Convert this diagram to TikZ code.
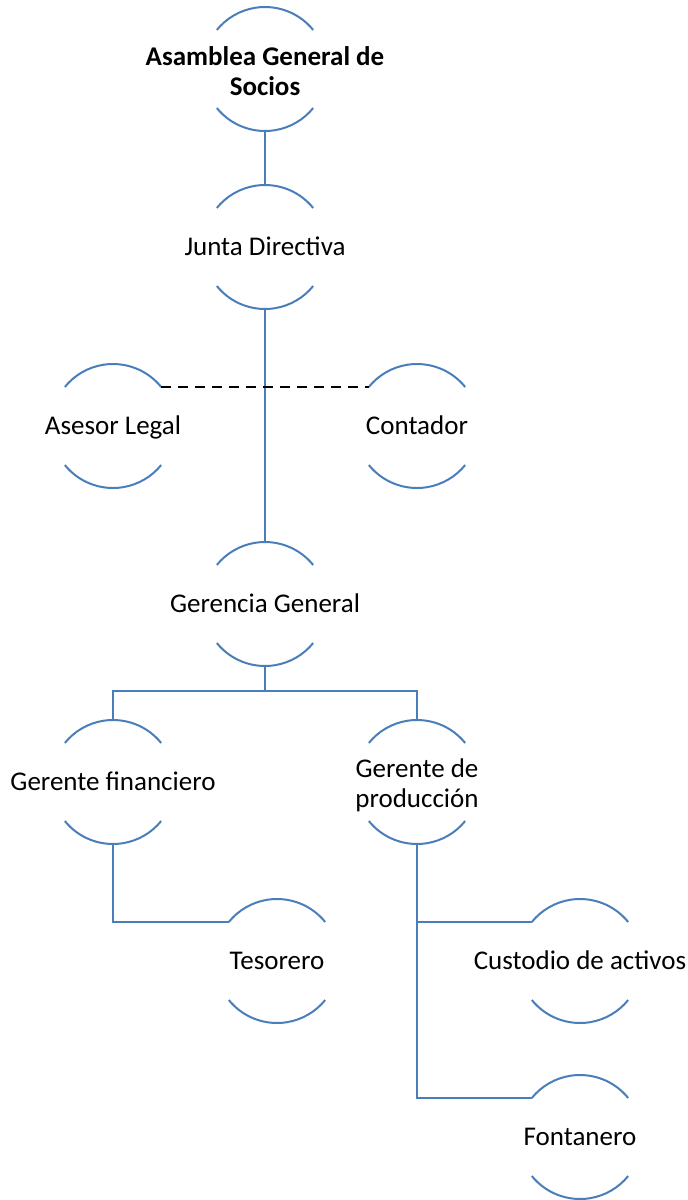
\documentclass[tikz,border=0pt]{standalone}
\usepackage{fontspec}
\setmainfont{Carlito}
\usepackage{xcolor}
\usetikzlibrary{calc}
\definecolor{orgblue}{RGB}{74,126,187}

\begin{document}
\begin{tikzpicture}[x=1pt, y=1pt,
    every node/.style={font=\fontsize{27}{30}\selectfont},
    orgnode/.style={align=center, inner sep=0pt, anchor=mid, yshift=-6pt},
    twoline/.style={align=center, inner sep=0pt, anchor=center},
    arcline/.style={draw=orgblue, line width=2pt},
    link/.style={draw=orgblue, line width=2pt}]
  \useasboundingbox (0,0) rectangle (688,-1200);
  % nodes
  \node[twoline, font=\fontsize{27}{30}\selectfont\bfseries] (asm) at (265,-71) {Asamblea General de\\Socios};
  \node[orgnode] (jd) at (265,-247) {Junta Directiva};
  \node[orgnode] (ase) at (113,-426) {Asesor Legal};
  \node[orgnode] (con) at (417,-426) {Contador};
  \node[orgnode] (gg) at (265,-604) {Gerencia General};
  \node[orgnode] (gf) at (113,-782) {Gerente financiero};
  \node[twoline] (gp) at (417,-785) {Gerente de\\producción};
  \node[orgnode] (tes) at (277,-961) {Tesorero};
  \node[orgnode] (cus) at (580,-961) {Custodio de activos};
  \node[orgnode] (fon) at (580,-1137) {Fontanero};
  % arcs above and below each label
  \foreach \n/\c in {asm/{265,-69},jd/{265,-247},ase/{113,-426},con/{417,-426},gg/{265,-604},gf/{113,-782},gp/{417,-782},tes/{277,-961},cus/{580,-961},fon/{580,-1137}} {
    \coordinate (\n c) at (\c);
    \draw[arcline] ([shift={(39:62pt)}]\n c) arc[start angle=39, end angle=141, radius=62pt];
    \draw[arcline] ([shift={(219:62pt)}]\n c) arc[start angle=219, end angle=321, radius=62pt];
  }
  % connectors
  \draw[link] ([yshift=-62pt]asmc) -- ([yshift=62pt]jdc);
  \draw[link] ([yshift=-62pt]jdc) -- ([yshift=62pt]ggc);
  \draw[black, line width=2pt, dash pattern=on 10pt off 7pt] ([shift={(39:62pt)}]asec) -- ([shift={(141:62pt)}]conc);
  \draw[link] ([yshift=-62pt]ggc) -- ++(0,-25) -| ([yshift=62pt]gfc);
  \draw[link] ([yshift=-62pt]ggc) -- ++(0,-25) -| ([yshift=62pt]gpc);
  \draw[link] ([yshift=-62pt]gfc) |- ([shift={(141:62pt)}]tesc);
  \draw[link] ([yshift=-62pt]gpc) |- ([shift={(141:62pt)}]cusc);
  \draw[link] ([yshift=-62pt]gpc) |- ([shift={(141:62pt)}]fonc);
\end{tikzpicture}
\end{document}
